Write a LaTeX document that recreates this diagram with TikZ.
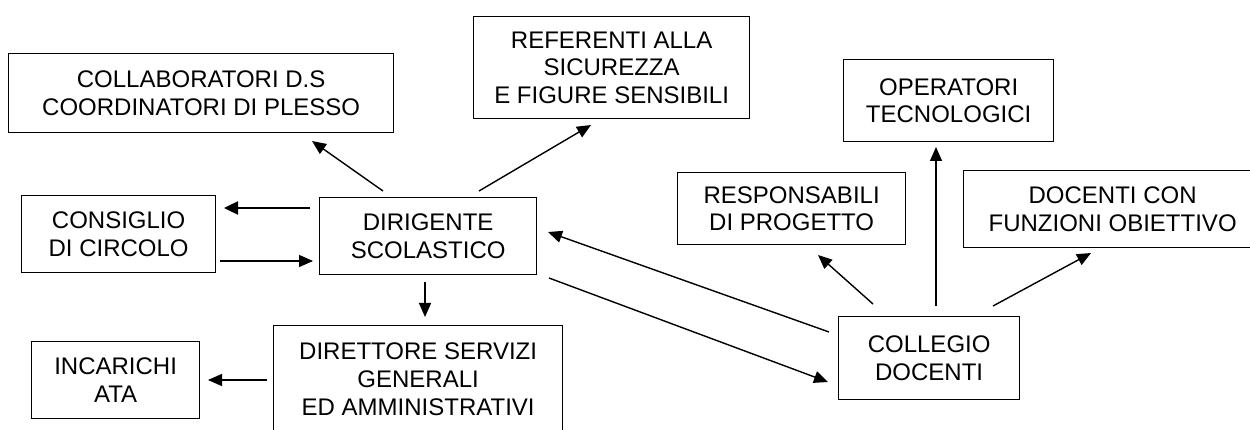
\documentclass[tikz,border=0pt]{standalone}
\usepackage{fontspec}
\setmainfont{Liberation Sans}
\usetikzlibrary{arrows.meta}
\begin{document}
\begin{tikzpicture}[x=1pt,y=-1pt,
  box/.style={draw, line width=1.3pt, anchor=north west, align=center, inner sep=0pt,
    font=\fontsize{24pt}{27.6pt}\selectfont},
  arr/.style={line width=1.4pt, -{Triangle[length=14pt,width=12pt]}},
  thickarr/.style={line width=2.4pt, -{Triangle[length=14pt,width=13pt]}}]
\useasboundingbox (0,0) rectangle (1250,430);
\clip (0,0) rectangle (1250,430);
% boxes
\node[box, minimum width=385pt, minimum height=79pt] (collab) at (8,53) {COLLABORATORI D.S\\COORDINATORI DI PLESSO};
\node[box, minimum width=276pt, minimum height=102pt] (refer) at (473,16) {REFERENTI ALLA\\SICUREZZA\\E FIGURE SENSIBILI};
\node[box, minimum width=210pt, minimum height=82pt] (oper) at (843,59) {OPERATORI\\TECNOLOGICI};
\node[box, minimum width=194pt, minimum height=77pt] (cons) at (21,195) {CONSIGLIO\\DI CIRCOLO};
\node[box, minimum width=217pt, minimum height=77pt] (dirig) at (319,197) {DIRIGENTE\\SCOLASTICO};
\node[box, minimum width=228pt, minimum height=72pt] (resp) at (677,172) {RESPONSABILI\\DI PROGETTO};
\node[box, minimum width=298pt, minimum height=77pt] (docfo) at (963,170) {DOCENTI CON\\FUNZIONI OBIETTIVO};
\node[box, minimum width=289pt, minimum height=107pt] (dirett) at (273,325) {DIRETTORE SERVIZI\\GENERALI\\ED AMMINISTRATIVI};
\node[box, minimum width=168pt, minimum height=77pt] (incar) at (31,341) {INCARICHI\\ATA};
\node[box, minimum width=181pt, minimum height=83pt] (colleg) at (838,316) {COLLEGIO\\DOCENTI};
% connector end points
\coordinate (dcA) at (383,191); \coordinate (clA) at (312,141);
\coordinate (drA) at (479,191); \coordinate (rfA) at (591,125);
\coordinate (dkA) at (310,208); \coordinate (ckA) at (224,208);
\coordinate (ckB) at (220,261); \coordinate (dkB) at (313,261);
\coordinate (ddA) at (425,282); \coordinate (deA) at (425,317);
\coordinate (eiA) at (267,380); \coordinate (iaA) at (208,380);
\coordinate (cgA) at (829,332); \coordinate (dgA) at (548,232);
\coordinate (dgB) at (549,278); \coordinate (cgB) at (828,382);
\coordinate (crA) at (873,304); \coordinate (rpA) at (818,255);
\coordinate (coA) at (936,306); \coordinate (opA) at (936,147);
\coordinate (cfA) at (993,306); \coordinate (dfA) at (1091,253);
% connectors
\draw[arr] (dcA) -- (clA);
\draw[arr] (drA) -- (rfA);
\draw[thickarr] (dkA) -- (ckA);
\draw[arr] (ckB) -- (dkB);
\draw[arr] (ddA) -- (deA);
\draw[arr] (eiA) -- (iaA);
\draw[arr] (cgA) -- (dgA);
\draw[arr] (dgB) -- (cgB);
\draw[arr] (crA) -- (rpA);
\draw[arr] (coA) -- (opA);
\draw[arr] (cfA) -- (dfA);
\end{tikzpicture}
\end{document}
